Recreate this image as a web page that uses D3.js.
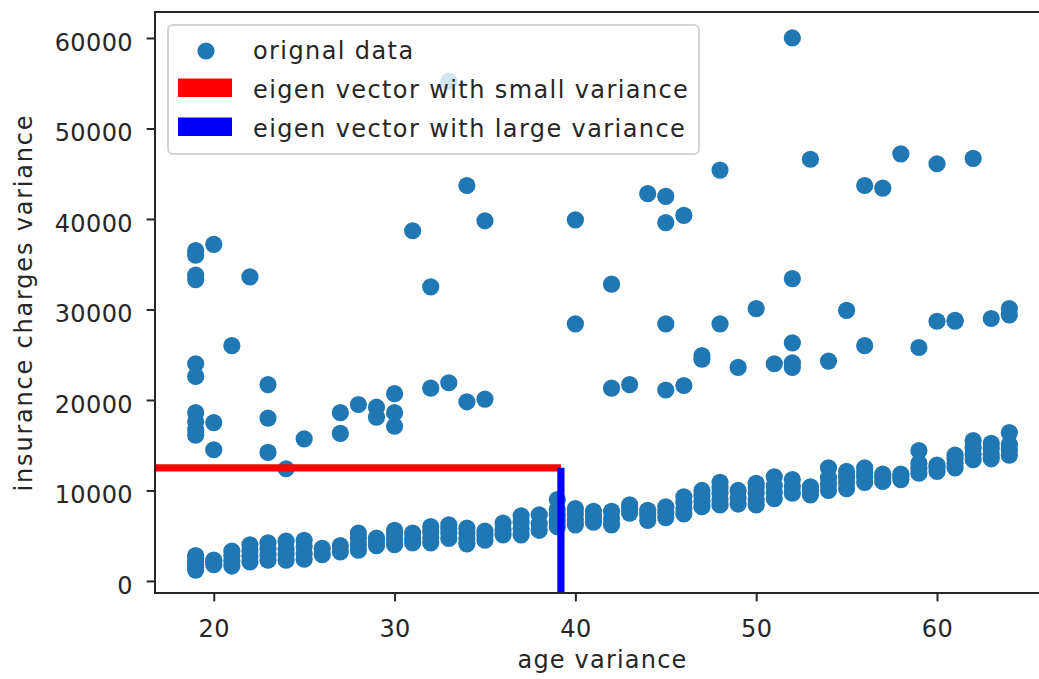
<!DOCTYPE html>
<html>
<head>
<meta charset="utf-8">
<script src="https://cdn.jsdelivr.net/npm/d3@7"></script>
<style>
  html, body { margin: 0; padding: 0; background: #fff; overflow: hidden; }
  svg { display: block; overflow: hidden; }
  svg text { font-family: "DejaVu Sans", sans-serif; fill: #262626; }
</style>
</head>
<body>
<svg id="chart" width="1039" height="679"></svg>
<script>
// ---- data: age vs. insurance charges, one entry per person ----
const ages = [
  // main (non-smoker) band
  19,19,19,19,19,19, 20,20,20, 21,21,21,21, 22,22,22,22, 23,23,23,23,
  24,24,24,24, 25,25,25,25, 26,26, 27,27, 28,28,28,28, 29,29,29,
  30,30,30,30, 31,31,31, 32,32,32,32, 33,33,33,33, 34,34,34,34,
  35,35,35, 36,36,36, 37,37,37,37, 38,38,38, 39,39,39,39,39,
  40,40,40,40, 41,41,41, 42,42,42, 43,43,43, 44,44,44, 45,45,45,
  46,46,46,46, 47,47,47,47, 48,48,48,48,48, 49,49,49,
  50,50,50,50,50, 51,51,51,51, 52,52,52, 53,53,53, 54,54,54,54,
  55,55,55,55, 56,56,56,56, 57,57,57, 58,58,58, 59,59,59,59,
  60,60,60, 61,61,61,61, 62,62,62,62, 63,63,63,63, 64,64,64,64,
  // higher-charge groups
  19,19,19,19,19,19,19,19,19,19, 20,20,20, 21, 22, 23,23,23, 24, 25,
  27,27, 28, 29,29, 30,30,30, 31, 32,32, 33,33, 34,34, 35,35,
  40,40, 42,42, 43, 44, 45,45,45,45, 46,46, 47,47, 48,48, 49, 50, 51,
  52,52,52,52,52, 53, 54, 55, 56,56, 57, 58, 59, 60,60, 61,61, 62, 63, 64,64
];

const charges = [
  1200,1500,1800,2100,2500,2800, 1800,2100,2300, 1650,2200,2800,3300, 2100,2700,3300,4000, 2300,2900,3600,4200,
  2300,2900,3500,4400, 2400,3000,3800,4500, 2900,3600, 3200,3900, 3400,4000,4700,5300, 3900,4300,4750,
  4000,4600,5100,5600, 4200,4700,5300, 4200,4800,5400,6000, 4700,5300,5800,6200, 4100,4700,5300,5850,
  4500,5000,5500, 5100,5700,6400, 5100,5800,6500,7200, 5600,6300,7300, 6000,6600,7200,7900,9000,
  6200,6800,7400,8000, 6500,7100,7700, 6200,6900,7700, 7500,8000,8400, 6700,7300,7800, 7000,7600,8200,
  7400,8000,8700,9300, 8200,8800,9400,10000, 8400,9000,9700,10300,10900, 8500,9200,10000,
  8400,9000,9700,10300,10800, 9100,9800,10500,11500, 9700,10400,11200, 9500,10000,10400, 10000,10700,11400,12500,
  10200,10900,11500,12100, 10900,11500,12000,12500, 11000,11400,11800, 11200,11500,11800, 11900,12400,13000,14400,
  12100,12500,12800, 12500,13000,13500,13900, 13400,14000,14700,15500, 13500,14000,14600,15200, 13900,14500,15100,16400,
  36500,36000,33800,33300,24000,22600,18600,17600,16700,16100, 37200,17500,14500, 26000, 33600, 21700,18000,14200, 12400, 15700,
  18600,16300, 19500, 19200,18100, 20700,18600,17100, 38700, 32500,21300, 55200,21900, 43700,19800, 39800,20100,
  39900,28400, 21300,32800, 21700, 42800, 42500,39600,28400,21100, 40400,21600, 24500,24900, 45400,28400, 23600, 30100, 24000,
  60000,33400,26300,24100,23600, 46600, 24300, 29900, 43700,26000, 43400, 47200, 25800, 46100,28700, 28800,28700, 46700, 29000, 30100,29400
];

const xTicks = [20, 30, 40, 50, 60];
const yTicks = [0, 10000, 20000, 30000, 40000, 50000, 60000];

// mean of the data; the two eigen-vector segments start from it
const meanAge = 39.2;
const meanCharge = 12500;
const smallEigen = [[0, meanCharge], [meanAge, meanCharge]];
const largeEigen = [[meanAge, meanCharge], [meanAge, -10000]];

const legendItems = [
  { label: "orignal data", kind: "dot", color: "#1f77b4" },
  { label: "eigen vector with small variance", kind: "patch", color: "#ff0000" },
  { label: "eigen vector with large variance", kind: "patch", color: "#0000ff" }
];

// ---- layout ----
const W = 1039, H = 679;
const plot = { left: 155, top: 12, right: 1050, bottom: 593 };
const svg = d3.select("#chart");

const x = d3.scaleLinear().domain([16.75, 66.25]).range([plot.left, plot.right]);
const y = d3.scaleLinear().domain([-1330, 62870]).range([plot.bottom, plot.top]);

svg.append("clipPath").attr("id", "plot-clip")
  .append("rect")
  .attr("x", plot.left).attr("y", plot.top)
  .attr("width", plot.right - plot.left).attr("height", plot.bottom - plot.top);

// scatter points
const points = ages.map((a, i) => ({ age: a, charge: charges[i] }));
svg.append("g").attr("clip-path", "url(#plot-clip)")
  .selectAll("circle").data(points).join("circle")
  .attr("cx", d => x(d.age))
  .attr("cy", d => y(d.charge))
  .attr("r", 8.6)
  .attr("fill", "#1f77b4");

// eigen vector segments
const line = d3.line().x(d => x(d[0])).y(d => y(d[1]));
const lines = svg.append("g").attr("clip-path", "url(#plot-clip)");
lines.append("path").attr("d", line(smallEigen))
  .attr("fill", "none").attr("stroke", "#ff0000").attr("stroke-width", 7.2);
lines.append("path").attr("d", line(largeEigen))
  .attr("fill", "none").attr("stroke", "#0000ff").attr("stroke-width", 7.2);

// axes
const xAxis = d3.axisBottom(x).tickValues(xTicks).tickSize(8.4).tickPadding(18)
  .tickFormat(d3.format("d"));
const yAxis = d3.axisLeft(y).tickValues(yTicks).tickSize(8.4).tickPadding(13.6)
  .tickFormat(d3.format("d"));

const gx = svg.append("g").attr("transform", `translate(0,${plot.bottom})`).call(xAxis);
const gy = svg.append("g").attr("transform", `translate(${plot.left},0)`).call(yAxis);
[gx, gy].forEach(g => {
  g.select(".domain").remove();
  g.selectAll(".tick line").attr("stroke", "#262626").attr("stroke-width", 2);
  g.selectAll(".tick text").attr("font-size", 24)
    .attr("font-family", "DejaVu Sans, sans-serif").attr("fill", "#262626")
    .attr("letter-spacing", 0.4);
});
gx.selectAll(".tick text").attr("dy", "0");
gx.selectAll(".tick text").attr("y", 8.4 + 18 + 17.5);
gy.selectAll(".tick text").attr("dy", "0.52em");

// spines: left, bottom and top; the frame runs on past the figure's right edge
const spineEnd = Math.min(plot.right, W);
const spines = svg.append("g").attr("stroke", "#262626").attr("stroke-width", 2);
spines.append("line").attr("x1", plot.left).attr("x2", plot.left).attr("y1", plot.top - 1).attr("y2", plot.bottom + 1);
spines.append("line").attr("x1", plot.left).attr("x2", spineEnd).attr("y1", plot.bottom).attr("y2", plot.bottom);
spines.append("line").attr("x1", plot.left).attr("x2", spineEnd).attr("y1", plot.top).attr("y2", plot.top);

// axis titles
svg.append("text")
  .attr("x", (plot.left + plot.right) / 2).attr("y", 668)
  .attr("text-anchor", "middle").attr("font-size", 24)
  .attr("letter-spacing", 1.2)
  .text("age variance");
svg.append("text")
  .attr("transform", `translate(32,${(plot.top + plot.bottom) / 2}) rotate(-90)`)
  .attr("text-anchor", "middle").attr("font-size", 24)
  .attr("letter-spacing", 1.8)
  .text("insurance charges variance");

// legend
const legend = svg.append("g");
legend.append("rect")
  .attr("x", 168).attr("y", 25).attr("width", 531).attr("height", 129)
  .attr("rx", 5).attr("ry", 5)
  .attr("fill", "#fff").attr("fill-opacity", 0.8)
  .attr("stroke", "#d4d4d4").attr("stroke-width", 2);

const rowBase = [59, 98, 137];
legendItems.forEach((item, i) => {
  const g = legend.append("g");
  if (item.kind === "dot") {
    g.append("circle").attr("cx", 206).attr("cy", rowBase[i] - 8).attr("r", 8.6).attr("fill", item.color);
  } else {
    g.append("rect").attr("x", 178).attr("y", rowBase[i] - 19.5)
      .attr("width", 54).attr("height", 18.5).attr("fill", item.color);
  }
  g.append("text").attr("x", 253).attr("y", rowBase[i]).attr("font-size", 24)
    .attr("letter-spacing", 1.4).text(item.label);
});
</script>
</body>
</html>
